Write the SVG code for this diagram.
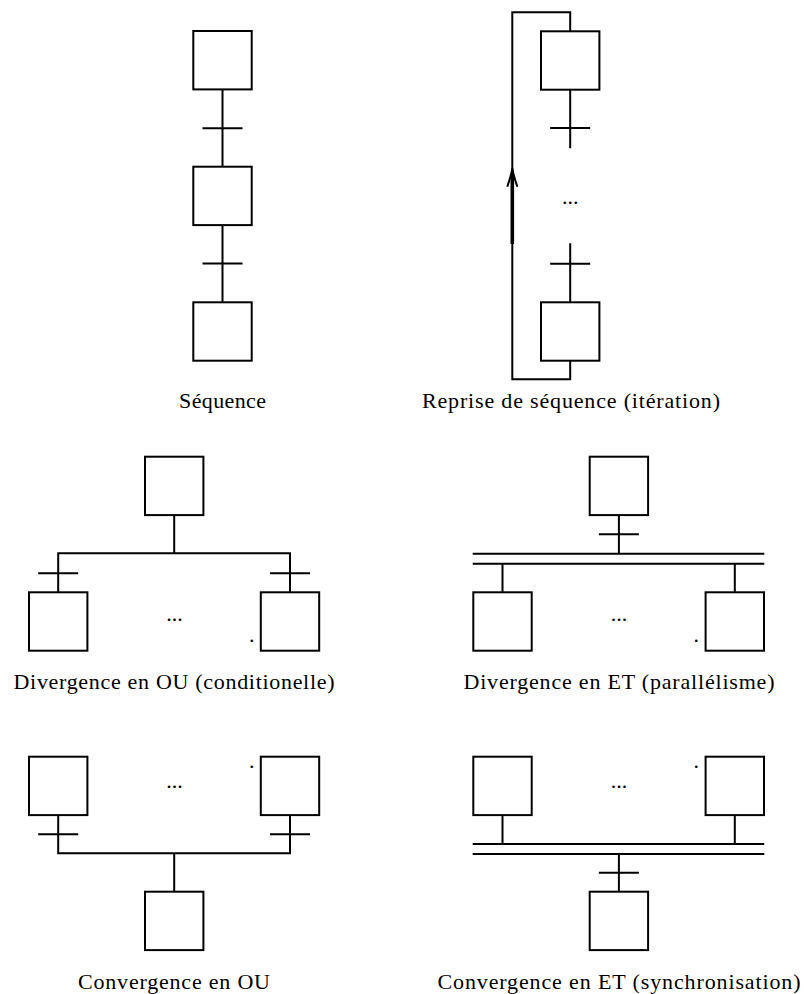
<svg xmlns="http://www.w3.org/2000/svg" width="804" height="994" viewBox="0 0 804 994">
<style>
.step rect{fill:#fff;stroke:#000;stroke-width:2}
.conn path{fill:none;stroke:#000;stroke-width:2}
.conn path.thick{stroke-width:3.6}
.lbl{font-family:"Liberation Serif","Times New Roman",serif;font-size:22px;text-anchor:middle;fill:#000}
.dots{font-family:"Liberation Serif","Times New Roman",serif;font-size:22px;text-anchor:middle;fill:#000}
</style>
<rect width="804" height="994" fill="#fff"/>
<g id="connectors" class="conn">
  <!-- sequence -->
  <path d="M222.5,89.4 V166.7 M202.5,128.3 H242.5 M222.5,225.1 V302.3 M202.5,263.5 H242.5"/>
  <!-- iteration -->
  <path d="M570.2,89.7 V148.3 M550.2,128 H590.2 M570.2,243.3 V302.3 M550.2,263.7 H590.2"/>
  <path d="M570.2,360.7 V379.3 H512.3 V12.3 H570.2 V31.3"/>
  <path class="thick" d="M512.3,174 V244"/>
  <path d="M507.3,186.7 C509.5,180 511.5,174 512.3,168.3 C513.1,174 515.1,180 517.3,186.7"/>
  <!-- divergence OU -->
  <path d="M174.2,515.1 V553.3 M58.2,592.3 V553.3 H290 V592.3 M38.2,573.3 H78.2 M270,573.3 H310"/>
  <!-- divergence ET -->
  <path d="M618.9,515.1 V553.7 M598.9,534.3 H638.9 M472.7,553.7 H764.3 M472.7,563.7 H764.3 M502.5,563.7 V592.3 M734.8,563.7 V592.3"/>
  <!-- convergence OU -->
  <path d="M58.2,815.1 V853.3 H290 V815.1 M174.2,853.3 V891.7 M38.2,834.3 H78.2 M270,834.3 H310"/>
  <!-- convergence ET -->
  <path d="M502.5,815.1 V844 M734.8,815.1 V844 M472.7,844 H764.3 M472.7,854 H764.3 M618.9,854 V891.7 M598.9,872.7 H638.9"/>
</g>
<g id="seq1" class="step"><rect x="193.3" y="31" width="58.4" height="58.4"/></g>
<g id="seq2" class="step"><rect x="193.3" y="166.7" width="58.4" height="58.4"/></g>
<g id="seq3" class="step"><rect x="193.3" y="302.3" width="58.4" height="58.4"/></g>
<g id="it1" class="step"><rect x="541" y="31.3" width="58.4" height="58.4"/></g>
<g id="it2" class="step"><rect x="541" y="302.3" width="58.4" height="58.4"/></g>
<g id="dou_top" class="step"><rect x="145" y="456.7" width="58.4" height="58.4"/></g>
<g id="dou_l" class="step"><rect x="29" y="592.3" width="58.4" height="58.4"/></g>
<g id="dou_r" class="step"><rect x="260.8" y="592.3" width="58.4" height="58.4"/></g>
<g id="det_top" class="step"><rect x="589.7" y="456.7" width="58.4" height="58.4"/></g>
<g id="det_l" class="step"><rect x="473.3" y="592.3" width="58.4" height="58.4"/></g>
<g id="det_r" class="step"><rect x="705.6" y="592.3" width="58.4" height="58.4"/></g>
<g id="cou_l" class="step"><rect x="29" y="756.7" width="58.4" height="58.4"/></g>
<g id="cou_r" class="step"><rect x="260.8" y="756.7" width="58.4" height="58.4"/></g>
<g id="cou_bot" class="step"><rect x="145" y="891.7" width="58.4" height="58.4"/></g>
<g id="cet_l" class="step"><rect x="473.3" y="756.7" width="58.4" height="58.4"/></g>
<g id="cet_r" class="step"><rect x="705.6" y="756.7" width="58.4" height="58.4"/></g>
<g id="cet_bot" class="step"><rect x="589.7" y="891.7" width="58.4" height="58.4"/></g>
<g id="dots">
  <text class="dots" x="570.3" y="203.5">...</text>
  <text class="dots" x="174.5" y="620.5">...</text>
  <text class="dots" x="619" y="620.5">...</text>
  <text class="dots" x="174.5" y="788">...</text>
  <text class="dots" x="619" y="788">...</text>
  <text class="dots" x="251.7" y="642">.</text>
  <text class="dots" x="696.3" y="642">.</text>
  <text class="dots" x="251.7" y="768">.</text>
  <text class="dots" x="696.3" y="768">.</text>
</g>
<g id="labels">
  <text class="lbl" x="222.5" y="408" textLength="87">Séquence</text>
  <text class="lbl" x="571" y="408" textLength="298">Reprise de séquence (itération)</text>
  <text class="lbl" x="174" y="689" textLength="321">Divergence en OU (conditionelle)</text>
  <text class="lbl" x="619" y="689" textLength="311">Divergence en ET (parallélisme)</text>
  <text class="lbl" x="174" y="989" textLength="192">Convergence en OU</text>
  <text class="lbl" x="619" y="989" textLength="363">Convergence en ET (synchronisation)</text>
</g>
</svg>
